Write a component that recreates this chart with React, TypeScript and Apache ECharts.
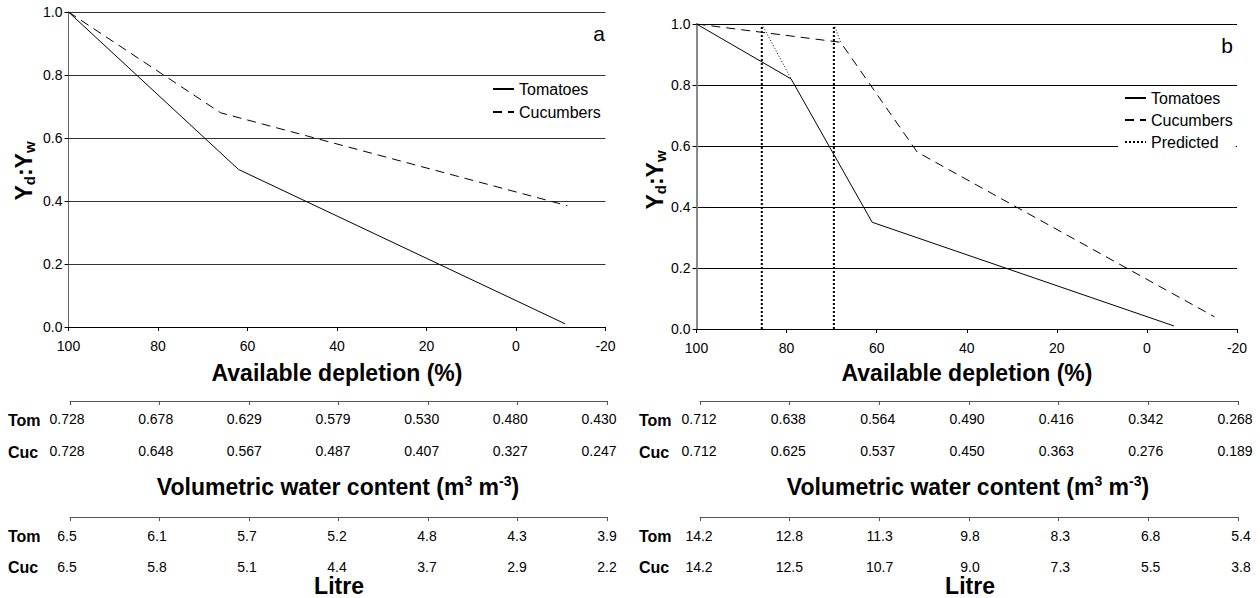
import React, { useEffect, useRef } from "react";
import * as echarts from "echarts";

const FONT = '"Liberation Sans", Arial, Helvetica, sans-serif';

// Relative yield (Yd:Yw) against available depletion (%), panel a
const tomatoA: number[][] = [[100, 1.0], [62, 0.5], [-11, 0.01]];
const cucumberA: number[][] = [[100, 1.0], [66, 0.68], [-11.5, 0.385]];

// Panel b
const tomatoB: number[][] = [[100, 1.0], [79, 0.82], [61, 0.35], [-6, 0.01]];
const cucumberB: number[][] = [[100, 1.0], [68, 0.94], [51, 0.58], [-15, 0.04]];

// Predicted thresholds (panel b)
const predTomatoV: number[][] = [[85.5, 0], [85.5, 1.0]];
const predTomatoD: number[][] = [[85.5, 1.0], [79, 0.82]];
const predCucumberV: number[][] = [[69.5, 0], [69.5, 1.0]];
const predCucumberD: number[][] = [[69.5, 1.0], [68, 0.94]];

// Secondary scales: volumetric water content (m3 m-3)
const volTomA = ["0.728", "0.678", "0.629", "0.579", "0.530", "0.480", "0.430"];
const volCucA = ["0.728", "0.648", "0.567", "0.487", "0.407", "0.327", "0.247"];
const volTomB = ["0.712", "0.638", "0.564", "0.490", "0.416", "0.342", "0.268"];
const volCucB = ["0.712", "0.625", "0.537", "0.450", "0.363", "0.276", "0.189"];

// Secondary scales: litre
const litreTomA = ["6.5", "6.1", "5.7", "5.2", "4.8", "4.3", "3.9"];
const litreCucA = ["6.5", "5.8", "5.1", "4.4", "3.7", "2.9", "2.2"];
const litreTomB = ["14.2", "12.8", "11.3", "9.8", "8.3", "6.8", "5.4"];
const litreCucB = ["14.2", "12.5", "10.7", "9.0", "7.3", "5.5", "3.8"];

function buildOption() {
  const grids: any[] = [
    { left: 68.5, top: 12, width: 537, height: 315 },
    { left: 696.5, top: 24, width: 540.5, height: 305 },
    // panel a scales
    { left: 70, top: 400, width: 537, height: 1 },
    { left: 67, top: 400, width: 532, height: 1 },
    { left: 70, top: 516, width: 537, height: 1 },
    { left: 67, top: 516, width: 540, height: 1 },
    // panel b scales
    { left: 700, top: 400, width: 538, height: 1 },
    { left: 699, top: 400, width: 536, height: 1 },
    { left: 700, top: 516, width: 538, height: 1 },
    { left: 699, top: 516, width: 542, height: 1 },
  ];

  const mainX = (gridIndex: number) => ({
    type: "value",
    gridIndex,
    min: -20,
    max: 100,
    interval: 20,
    inverse: true,
    axisLine: { show: true, onZero: false, lineStyle: { color: "#000", width: 1 } },
    axisTick: { show: true, length: 4, lineStyle: { color: "#000" } },
    axisLabel: { margin: 12, fontSize: 14, color: "#000", fontFamily: FONT },
    splitLine: { show: false },
  });

  const mainY = (gridIndex: number, axisColor: string, axisWidth: number, gridColor: string) => ({
    type: "value",
    gridIndex,
    min: 0,
    max: 1,
    interval: 0.2,
    axisLine: { show: true, onZero: false, lineStyle: { color: axisColor, width: axisWidth } },
    axisTick: { show: true, length: 4, lineStyle: { color: "#000" } },
    axisLabel: {
      margin: 6,
      fontSize: 14,
      color: "#000",
      fontFamily: FONT,
      formatter: (v: number) => v.toFixed(1),
    },
    splitLine: { show: true, lineStyle: { color: gridColor, width: 1 } },
  });

  const tickAxis = (gridIndex: number, data: string[]) => ({
    type: "category",
    gridIndex,
    data,
    boundaryGap: false,
    position: "bottom",
    axisLine: { show: true, onZero: false, lineStyle: { color: "#555", width: 1 } },
    axisTick: { show: true, length: 4, interval: 0, lineStyle: { color: "#555" } },
    axisLabel: { show: false },
    splitLine: { show: false },
  });

  const labelAxis = (gridIndex: number, data: string[], margin: number) => ({
    type: "category",
    gridIndex,
    data,
    boundaryGap: false,
    position: "bottom",
    axisLine: { show: false, onZero: false },
    axisTick: { show: false },
    axisLabel: { show: true, interval: 0, margin, fontSize: 14, color: "#000", fontFamily: FONT },
    splitLine: { show: false },
  });

  const xAxis: any[] = [
    mainX(0),
    mainX(1),
    tickAxis(2, volTomA),
    labelAxis(3, volTomA, 11),
    labelAxis(3, volCucA, 43),
    tickAxis(4, litreTomA),
    labelAxis(5, litreTomA, 12),
    labelAxis(5, litreCucA, 43),
    tickAxis(6, volTomB),
    labelAxis(7, volTomB, 11),
    labelAxis(7, volCucB, 43),
    tickAxis(8, litreTomB),
    labelAxis(9, litreTomB, 12),
    labelAxis(9, litreCucB, 43),
  ];

  const yAxis: any[] = [mainY(0, "#666", 1, "#333"), mainY(1, "#888", 2, "#000")];
  for (let i = 2; i < grids.length; i++) {
    yAxis.push({ type: "value", gridIndex: i, show: false, min: 0, max: 1 });
  }

  const line = (
    name: string,
    data: number[][],
    axis: number,
    type: any,
    width = 1
  ) => ({
    type: "line",
    name,
    data,
    xAxisIndex: axis,
    yAxisIndex: axis,
    symbol: "none",
    silent: true,
    color: "#000",
    lineStyle: { color: "#000", width, type },
  });

  const series: any[] = [
    line("Tomatoes", tomatoA, 0, "solid"),
    line("Cucumbers", cucumberA, 0, [9, 6]),
    line("Tomatoes", tomatoB, 1, "solid"),
    line("Cucumbers", cucumberB, 1, [9, 6]),
    line("Predicted", predTomatoV, 1, [2, 2], 2),
    line("Predicted", predCucumberV, 1, [2, 2], 2),
    line("Predicted", predTomatoD, 1, [1, 2], 1),
    line("Predicted", predCucumberD, 1, [1, 2], 1),
  ];

  const legendText = { fontSize: 16, color: "#000", fontFamily: FONT, lineHeight: 16 };
  // legend keys show only the line sample, no marker
  const legendItem = { opacity: 0 };
  const legend: any[] = [
    {
      data: ["Tomatoes", "Cucumbers"],
      orient: "vertical",
      left: 492,
      top: 81,
      padding: 0,
      itemWidth: 21,
      itemHeight: 14,
      itemGap: 7,
      selectedMode: false,
      itemStyle: legendItem,
      textStyle: legendText,
    },
    {
      data: ["Tomatoes", "Cucumbers", "Predicted"],
      orient: "vertical",
      left: 1118,
      top: 88,
      padding: [2, 3, 0, 6],
      backgroundColor: "#fff",
      itemWidth: 21,
      itemHeight: 14,
      itemGap: 6,
      selectedMode: false,
      itemStyle: legendItem,
      textStyle: legendText,
    },
  ];

  const title = (x: number, y: number, text: string) => ({
    type: "text",
    x,
    y,
    silent: true,
    style: {
      text,
      fontSize: 23,
      fontWeight: "bold",
      fontFamily: FONT,
      fill: "#000",
      align: "center",
      verticalAlign: "middle",
    },
  });

  const volTitle = (x: number, y: number) => ({
    type: "text",
    x,
    y,
    silent: true,
    style: {
      text: "{t|Volumetric water content (m}{p|3}{t| m}{p|-3}{t|)}",
      align: "center",
      verticalAlign: "middle",
      fill: "#000",
      rich: {
        t: { fontSize: 23, fontWeight: "bold", fontFamily: FONT, lineHeight: 26, fill: "#000" },
        p: {
          fontSize: 14,
          fontWeight: "bold",
          fontFamily: FONT,
          lineHeight: 12,
          verticalAlign: "top",
          fill: "#000",
        },
      },
    },
  });

  const yTitle = (x: number, y: number) => ({
    type: "text",
    x,
    y,
    rotation: Math.PI / 2,
    silent: true,
    style: {
      text: "{m|Y}{s|d}{m|:Y}{s|w}",
      align: "center",
      verticalAlign: "middle",
      fill: "#000",
      rich: {
        m: { fontSize: 23, fontWeight: "bold", fontFamily: FONT, lineHeight: 26, fill: "#000" },
        s: {
          fontSize: 15,
          fontWeight: "bold",
          fontFamily: FONT,
          lineHeight: 12,
          verticalAlign: "bottom",
          fill: "#000",
        },
      },
    },
  });

  const rowLabel = (x: number, y: number, text: string) => ({
    type: "text",
    x,
    y,
    silent: true,
    style: {
      text,
      fontSize: 16,
      fontWeight: "bold",
      fontFamily: FONT,
      fill: "#000",
      align: "left",
      verticalAlign: "middle",
    },
  });

  const panelTag = (x: number, y: number, text: string) => ({
    type: "text",
    x,
    y,
    silent: true,
    style: {
      text,
      fontSize: 21,
      fontFamily: FONT,
      fill: "#000",
      align: "right",
      verticalAlign: "middle",
    },
  });

  const graphic: any[] = [
    panelTag(605, 33, "a"),
    panelTag(1233, 45, "b"),
    yTitle(24, 171),
    yTitle(655, 180),
    title(337, 373, "Available depletion (%)"),
    title(967, 373, "Available depletion (%)"),
    volTitle(338, 487),
    volTitle(968, 487),
    title(339, 586, "Litre"),
    title(970, 586, "Litre"),
    rowLabel(8, 420, "Tom"),
    rowLabel(8, 452, "Cuc"),
    rowLabel(8, 536, "Tom"),
    rowLabel(8, 567, "Cuc"),
    rowLabel(639, 420, "Tom"),
    rowLabel(639, 452, "Cuc"),
    rowLabel(639, 536, "Tom"),
    rowLabel(639, 567, "Cuc"),
  ];

  return {
    animation: false,
    backgroundColor: "#fff",
    textStyle: { fontFamily: FONT },
    grid: grids,
    xAxis,
    yAxis,
    series,
    legend,
    graphic,
  };
}

export default function App() {
  const ref = useRef<HTMLDivElement>(null);

  useEffect(() => {
    if (!ref.current) return;
    const chart = echarts.init(ref.current, null, { renderer: "svg" });
    chart.setOption(buildOption() as any);
    return () => {
      chart.dispose();
    };
  }, []);

  return (
    <div
      ref={ref}
      style={{
        position: "fixed",
        left: 0,
        top: 0,
        width: 1260,
        height: 598,
        background: "#fff",
      }}
    />
  );
}
